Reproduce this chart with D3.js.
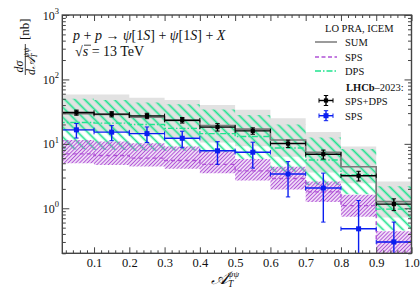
<!DOCTYPE html>
<html>
<head>
<meta charset="utf-8">
<script src="https://cdn.jsdelivr.net/npm/d3@7"></script>
<style>
body { margin: 0; background: #fff; }
svg { display: block; }
text { font-family: "Liberation Serif", "DejaVu Serif", serif; fill: #111; }
</style>
</head>
<body>
<svg id="chart" width="420" height="292"></svg>
<script>
// bins of the A_T distribution
const binLow  = [0.0, 0.1, 0.2, 0.3, 0.4, 0.5, 0.6, 0.7, 0.8, 0.9];
const binHigh = [0.1, 0.2, 0.3, 0.4, 0.5, 0.6, 0.7, 0.8, 0.9, 1.0];

// LO PRA, ICEM predictions [nb]
const sumMid  = [29.5, 28.5, 26.0, 23.0, 19.2, 16.9, 11.5, 7.4, 4.4, 1.27];
const sumLow  = [16.0, 15.5, 14.5, 12.8, 10.5, 9.2, 6.3, 3.6, 2.45, 0.72];
const sumHigh = [58.5, 58.5, 52.0, 48.0, 40.0, 33.7, 25.0, 15.3, 9.1, 2.6];
const spsMid  = [7.0, 6.6, 6.0, 5.5, 4.8, 3.8, 2.9, 1.8, 1.1, 0.3];
const spsLow  = [5.0, 4.7, 4.45, 4.1, 3.5, 2.7, 1.95, 1.25, 0.74, 0.2];
const spsHigh = [11.5, 10.9, 10.2, 9.1, 7.7, 5.8, 4.4, 2.6, 1.62, 0.44];
const dpsMid  = [21.4, 21.0, 20.0, 17.4, 14.4, 13.0, 8.6, 5.6, 3.3, 0.97];
const dpsLow  = [8.2, 8.0, 7.8, 7.8, 7.4, 5.8, 3.7, 2.3, 1.65, 0.45];
const dpsHigh = [50.0, 48.0, 44.0, 41.0, 34.0, 28.0, 20.0, 12.5, 8.3, 2.2];

// LHCb-2023 data
const lhcbAll    = [30.6, 28.9, 27.2, 23.3, 18.2, 15.9, 10.1, 6.9, 3.2, 1.16];
const lhcbAllErr = [2.8, 2.7, 2.6, 2.3, 2.4, 1.8, 1.3, 1.1, 0.55, 0.24];
const lhcbSps    = [16.5, 15.2, 14.4, 12.2, 7.8, 7.4, 3.4, 2.06, 0.48, 0.3];
const lhcbSpsErr = [4.2, 4.0, 3.9, 3.5, 3.0, 3.2, 1.9, 1.45, 0.84, 0.31];

// axis ticks
const xTicks = [0.1, 0.2, 0.3, 0.4, 0.5, 0.6, 0.7, 0.8, 0.9, 1.0];
const xTickLabels = ["0.1", "0.2", "0.3", "0.4", "0.5", "0.6", "0.7", "0.8", "0.9", "1.0"];
const yTicks = [1, 10, 100, 1000];
const yTickExp = ["0", "1", "2", "3"];

const svg = d3.select("#chart");
const X0 = 62.3, X1 = 411.5, Y0 = 253.3, Y1 = 15;
const x = d3.scaleLinear().domain([0.01, 1.0]).range([X0, X1]);
const y = d3.scaleLog().domain([0.2, 1000]).range([Y0, Y1]);

const defs = svg.append("defs");
defs.append("clipPath").attr("id", "plotclip")
  .append("rect").attr("x", X0).attr("y", Y1).attr("width", X1 - X0).attr("height", Y0 - Y1);

function hatch(id, color, gap, width, angle) {
  const p = defs.append("pattern").attr("id", id)
    .attr("patternUnits", "userSpaceOnUse")
    .attr("width", gap).attr("height", gap)
    .attr("patternTransform", "rotate(" + angle + ")");
  p.append("line").attr("x1", gap / 2).attr("y1", -1).attr("x2", gap / 2).attr("y2", gap + 1)
    .attr("stroke", color).attr("stroke-width", width);
}
hatch("hDps", "#1fe38e", 7, 1.7, -45);
hatch("hSps", "#b052d6", 2.7, 1.3, 45);

const plot = svg.append("g").attr("clip-path", "url(#plotclip)");

function stepRows(lo, hi) {
  return binLow.flatMap((b, i) => [
    { x: b, lo: lo[i], hi: hi[i] },
    { x: binHigh[i], lo: lo[i], hi: hi[i] }
  ]);
}
const band = d3.area().x(d => x(d.x)).y0(d => y(d.lo)).y1(d => y(d.hi));
const step = d3.line().x(d => x(d.x)).y(d => y(d.hi));

plot.append("path").datum(stepRows(sumLow, sumHigh)).attr("d", band).attr("fill", "#e2e2e2");
plot.append("path").datum(stepRows(dpsLow, dpsHigh)).attr("d", band).attr("fill", "url(#hDps)");
plot.append("path").datum(stepRows(spsLow, spsHigh)).attr("d", band).attr("fill", "url(#hSps)");

plot.append("path").datum(stepRows(spsMid, spsMid)).attr("d", step)
  .attr("fill", "none").attr("stroke", "#b052d6").attr("stroke-width", 1.4).attr("stroke-dasharray", "4,3");
plot.append("path").datum(stepRows(dpsMid, dpsMid)).attr("d", step)
  .attr("fill", "none").attr("stroke", "#1fe38e").attr("stroke-width", 1.4).attr("stroke-dasharray", "6,2,1.5,2");
plot.append("path").datum(stepRows(sumMid, sumMid)).attr("d", step)
  .attr("fill", "none").attr("stroke", "#7a7a7a").attr("stroke-width", 1.6);

function points(vals, errs, color, size) {
  const g = plot.append("g").attr("stroke", color).attr("fill", color).attr("stroke-width", 1.4);
  vals.forEach((v, i) => {
    const cx = x((binLow[i] + binHigh[i]) / 2), cy = y(v);
    const xa = x(binLow[i]), xb = x(binHigh[i]);
    const ya = y(v + errs[i]);
    const yb = v - errs[i] > 0 ? y(v - errs[i]) : Y0 + 5;
    g.append("line").attr("x1", Math.max(xa, X0)).attr("x2", xb).attr("y1", cy).attr("y2", cy);
    [xa, xb].forEach(cxp => {
      if (cxp > X0) g.append("line").attr("x1", cxp).attr("x2", cxp).attr("y1", cy - 2.2).attr("y2", cy + 2.2).attr("stroke-width", 1);
    });
    g.append("line").attr("x1", cx).attr("x2", cx).attr("y1", ya).attr("y2", yb);
    [ya, yb].forEach(cyp => {
      g.append("line").attr("x1", cx - 2.2).attr("x2", cx + 2.2).attr("y1", cyp).attr("y2", cyp).attr("stroke-width", 1);
    });
    g.append("rect").attr("x", cx - size / 2).attr("y", cy - size / 2).attr("width", size).attr("height", size).attr("stroke", "none");
  });
}
points(lhcbAll, lhcbAllErr, "#000", 4.2);
points(lhcbSps, lhcbSpsErr, "#0a1ef0", 5);

// axes, ticks pointing inward on all four sides
const axisColor = "#444";
function styleAxis(g) {
  g.select(".domain").remove();
  g.selectAll("line").attr("stroke", axisColor).attr("stroke-width", 1);
  g.selectAll("text").style("font-family", "'Liberation Serif', serif").style("font-size", "12.5px").attr("fill", "#222");
}
const xMinor = d3.range(0.02, 1.0, 0.02).filter(v => Math.abs(v * 10 - Math.round(v * 10)) > 0.01);
const yMinor = [];
[0.1, 1, 10, 100].forEach(dec => d3.range(2, 10).forEach(k => { if (k * dec >= 0.2) yMinor.push(k * dec); }));

svg.append("g").attr("transform", "translate(0," + Y0 + ")")
  .call(d3.axisBottom(x).tickValues(xTicks).tickSize(-6).tickSizeOuter(0).tickPadding(5)
    .tickFormat((d, i) => xTickLabels[i])).call(styleAxis);
svg.append("g").attr("transform", "translate(0," + Y0 + ")")
  .call(d3.axisBottom(x).tickValues(xMinor).tickSize(-3).tickSizeOuter(0).tickFormat("")).call(styleAxis);
svg.append("g").attr("transform", "translate(0," + Y1 + ")")
  .call(d3.axisTop(x).tickValues(xTicks).tickSize(-6).tickSizeOuter(0).tickFormat("")).call(styleAxis);
svg.append("g").attr("transform", "translate(0," + Y1 + ")")
  .call(d3.axisTop(x).tickValues(xMinor).tickSize(-3).tickSizeOuter(0).tickFormat("")).call(styleAxis);

svg.append("g").attr("transform", "translate(" + X0 + ",0)")
  .call(d3.axisLeft(y).tickValues(yTicks).tickSize(-7).tickSizeOuter(0).tickFormat("")).call(styleAxis);
svg.append("g").attr("transform", "translate(" + X0 + ",0)")
  .call(d3.axisLeft(y).tickValues(yMinor).tickSize(-3.5).tickSizeOuter(0).tickFormat("")).call(styleAxis);
svg.append("g").attr("transform", "translate(" + X1 + ",0)")
  .call(d3.axisRight(y).tickValues(yTicks).tickSize(-7).tickSizeOuter(0).tickFormat("")).call(styleAxis);
svg.append("g").attr("transform", "translate(" + X1 + ",0)")
  .call(d3.axisRight(y).tickValues(yMinor).tickSize(-3.5).tickSizeOuter(0).tickFormat("")).call(styleAxis);

// y tick labels 10^n
yTicks.forEach((t, i) => {
  const tx = svg.append("text").attr("x", 59).attr("y", y(t) + 4.5).attr("text-anchor", "end")
    .style("font-size", "12px").attr("fill", "#222");
  tx.append("tspan").text("10");
  tx.append("tspan").attr("dy", -5.5).style("font-size", "8.5px").text(yTickExp[i]);
});

svg.append("rect").attr("x", X0).attr("y", Y1).attr("width", X1 - X0).attr("height", Y0 - Y1)
  .attr("fill", "none").attr("stroke", axisColor).attr("stroke-width", 1.4);

// x axis title
const xt = svg.append("text").attr("x", 211).attr("y", 284).style("font-size", "18px");
xt.append("tspan").style("font-style", "italic").text("𝒜");
xt.append("tspan").attr("dy", 3).style("font-size", "9.5px").style("font-style", "italic").text("T");
xt.append("tspan").attr("dy", -10).attr("dx", -5.5).style("font-size", "9px").style("font-style", "italic").text("ψψ");

// y axis title
const yl = svg.append("g").attr("transform", "translate(25.3,75) rotate(-90)");
yl.append("line").attr("x1", 0).attr("x2", 31).attr("y1", 0).attr("y2", 0).attr("stroke", "#111").attr("stroke-width", 0.8);
yl.append("text").attr("x", 8.5).attr("y", -2.5).attr("text-anchor", "middle")
  .style("font-size", "12px").style("font-style", "italic").text("dσ");
const den = yl.append("text").attr("x", 0).attr("y", 9.5).style("font-size", "12px").style("font-style", "italic");
den.append("tspan").text("d𝒜");
den.append("tspan").attr("dy", 2.5).style("font-size", "8px").text("T");
den.append("tspan").attr("dy", -8).attr("dx", -4).style("font-size", "8px").text("ψψ");
yl.append("text").attr("x", 35).attr("y", 3.5).style("font-size", "13px").text("[nb]");

// process label
const t1 = svg.append("text").attr("x", 73).attr("y", 40).style("font-size", "14px");
t1.append("tspan").style("font-style", "italic").text("p");
t1.append("tspan").text(" + ");
t1.append("tspan").style("font-style", "italic").text("p");
t1.append("tspan").text(" → ");
t1.append("tspan").style("font-style", "italic").text("ψ");
t1.append("tspan").text("[1");
t1.append("tspan").style("font-style", "italic").text("S");
t1.append("tspan").text("] + ");
t1.append("tspan").style("font-style", "italic").text("ψ");
t1.append("tspan").text("[1");
t1.append("tspan").style("font-style", "italic").text("S");
t1.append("tspan").text("] + ");
t1.append("tspan").style("font-style", "italic").text("X");

const t2 = svg.append("text").attr("x", 75).attr("y", 56).style("font-size", "14px");
t2.append("tspan").text("√");
t2.append("tspan").style("font-style", "italic").text("s");
t2.append("tspan").text(" = 13 TeV");
svg.append("line").attr("x1", 84).attr("x2", 91).attr("y1", 45.2).attr("y2", 45.2).attr("stroke", "#111").attr("stroke-width", 0.8);

// legend
const lg = svg.append("g").style("font-size", "10.5px");
lg.append("text").attr("x", 325).attr("y", 31.5).text("LO PRA, ICEM");
const legLines = [
  { label: "SUM", y: 42, color: "#7a7a7a", dash: null },
  { label: "SPS", y: 57, color: "#b052d6", dash: "4,2.5" },
  { label: "DPS", y: 71, color: "#1fe38e", dash: "6,2,1.5,2" }
];
legLines.forEach(d => {
  lg.append("line").attr("x1", 315).attr("x2", 337).attr("y1", d.y).attr("y2", d.y)
    .attr("stroke", d.color).attr("stroke-width", 1.5).attr("stroke-dasharray", d.dash);
  lg.append("text").attr("x", 345).attr("y", d.y + 4).text(d.label);
});
const lh = lg.append("text").attr("x", 346).attr("y", 90.5);
lh.append("tspan").style("font-weight", "bold").text("LHCb");
lh.append("tspan").text("–2023:");
[{ label: "SPS+DPS", y: 100.5, color: "#000", size: 4.2 }, { label: "SPS", y: 115.7, color: "#0a1ef0", size: 5 }].forEach(d => {
  const g = lg.append("g").attr("stroke", d.color).attr("fill", d.color).attr("stroke-width", 1.4);
  g.append("line").attr("x1", 319).attr("x2", 333).attr("y1", d.y).attr("y2", d.y);
  g.append("line").attr("x1", 326).attr("x2", 326).attr("y1", d.y - 5).attr("y2", d.y + 5);
  [319, 333].forEach(cx => g.append("line").attr("x1", cx).attr("x2", cx).attr("y1", d.y - 2.2).attr("y2", d.y + 2.2).attr("stroke-width", 1));
  [d.y - 5, d.y + 5].forEach(cy => g.append("line").attr("x1", 323.8).attr("x2", 328.2).attr("y1", cy).attr("y2", cy).attr("stroke-width", 1));
  g.append("rect").attr("x", 326 - d.size / 2).attr("y", d.y - d.size / 2).attr("width", d.size).attr("height", d.size).attr("stroke", "none");
  lg.append("text").attr("x", 345).attr("y", d.y + 4).text(d.label);
});
</script>
</body>
</html>
